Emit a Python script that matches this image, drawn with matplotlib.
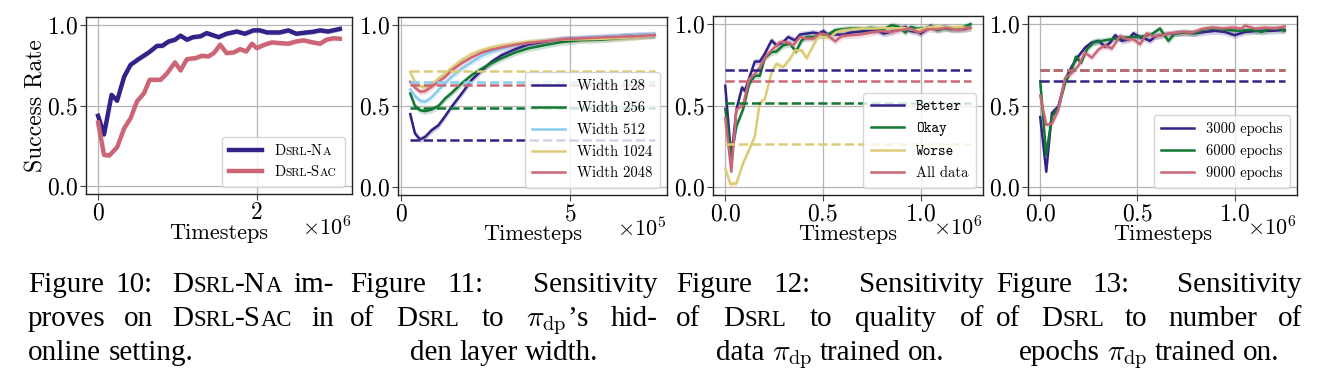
import matplotlib

matplotlib.use("Agg")
import matplotlib.pyplot as plt
import numpy as np

plt.rcParams.update({
    "font.family": "cmr10",
    "mathtext.fontset": "cm",
    "axes.formatter.use_mathtext": True,
    "axes.unicode_minus": False,
})

NAVY = "#332288"
GREEN = "#117733"
CYAN = "#88CCEE"
SAND = "#DDCC77"
ROSE = "#CC6677"

W, H = 1318, 382

# ---- Figure 10: online, DSRL-NA vs DSRL-SAC (timesteps in 1e6)
f10_na_t = [0, 0.075, 0.17, 0.24, 0.33, 0.41, 0.51, 0.64, 0.745, 0.81, 0.89, 0.97, 1.04, 1.12,
            1.2, 1.29, 1.37, 1.52, 1.62, 1.75, 1.85, 1.96, 2.04, 2.13, 2.29, 2.4, 2.5, 2.63,
            2.71, 2.8, 2.9, 3.05]
f10_na = [0.436, 0.32, 0.566, 0.53, 0.68, 0.753, 0.788, 0.83, 0.871, 0.871, 0.898, 0.909,
          0.934, 0.909, 0.925, 0.93, 0.95, 0.925, 0.946, 0.96, 0.946, 0.967, 0.967, 0.954,
          0.954, 0.967, 0.946, 0.954, 0.958, 0.967, 0.96, 0.976]
f10_sac_t = [0, 0.075, 0.14, 0.24, 0.33, 0.41, 0.49, 0.58, 0.65, 0.79, 0.87, 0.97, 1.04, 1.12,
             1.23, 1.31, 1.39, 1.46, 1.54, 1.62, 1.71, 1.79, 1.87, 1.94, 2.0, 2.1, 2.19, 2.29,
             2.4, 2.5, 2.59, 2.71, 2.8, 2.88, 2.97, 3.05]
f10_sac = [0.394, 0.193, 0.189, 0.24, 0.359, 0.421, 0.525, 0.577, 0.66, 0.66, 0.70, 0.768,
           0.718, 0.788, 0.795, 0.809, 0.805, 0.826, 0.878, 0.826, 0.83, 0.85, 0.836, 0.884,
           0.857, 0.878, 0.892, 0.888, 0.884, 0.898, 0.905, 0.892, 0.884, 0.909, 0.918, 0.915]
f10_labels = ["Dsrl-Na", "Dsrl-Sac"]  # drawn in small caps

# ---- Figure 11: hidden layer width (timesteps in 1e5)
f11_t = [0.27, 0.41, 0.56, 0.71, 0.9, 1.1, 1.3, 1.49, 1.79, 2.08, 2.38, 2.67, 2.97, 3.36,
         3.75, 4.24, 4.73, 5.32, 5.91, 6.5, 7.0, 7.49]
f11_w128 = [0.45, 0.33, 0.293, 0.309, 0.35, 0.38, 0.437, 0.495, 0.577, 0.66, 0.72, 0.773,
            0.814, 0.85, 0.88, 0.897, 0.913, 0.918, 0.924, 0.932, 0.938, 0.938]
f11_w256 = [0.577, 0.5, 0.474, 0.468, 0.478, 0.499, 0.546, 0.58, 0.64, 0.69, 0.73, 0.765,
            0.795, 0.83, 0.856, 0.876, 0.895, 0.907, 0.91, 0.92, 0.93, 0.938]
f11_w512 = [0.602, 0.561, 0.532, 0.526, 0.553, 0.598, 0.64, 0.68, 0.73, 0.77, 0.81, 0.835,
            0.855, 0.875, 0.89, 0.903, 0.911, 0.92, 0.928, 0.932, 0.938, 0.944]
f11_w1024 = [0.711, 0.649, 0.623, 0.614, 0.629, 0.67, 0.7, 0.735, 0.785, 0.82, 0.845, 0.862,
             0.875, 0.887, 0.897, 0.903, 0.911, 0.912, 0.915, 0.92, 0.928, 0.936]
f11_w2048 = [0.649, 0.614, 0.588, 0.592, 0.619, 0.649, 0.68, 0.72, 0.765, 0.8, 0.83, 0.848,
             0.862, 0.878, 0.89, 0.9, 0.911, 0.918, 0.924, 0.928, 0.932, 0.938]
f11_base = [0.289, 0.489, 0.649, 0.715, 0.631]
f11_labels = ["Width 128", "Width 256", "Width 512", "Width 1024", "Width 2048"]

# ---- Figure 12: data quality (timesteps in 1e6)
f12_better_t = [0, 0.031, 0.057, 0.086, 0.1, 0.122, 0.151, 0.177, 0.202, 0.237, 0.262, 0.297,
                0.322, 0.357, 0.382, 0.417, 0.451, 0.477, 0.503, 0.528, 0.563, 0.605, 0.64,
                0.674, 0.708, 0.743, 0.777, 0.811, 0.846, 0.88, 0.923, 0.949, 0.983, 1.0,
                1.026, 1.051, 1.086, 1.12, 1.154, 1.189, 1.223, 1.257]
f12_better = [0.621, 0.176, 0.476, 0.611, 0.59, 0.667, 0.77, 0.77, 0.818, 0.9, 0.87, 0.89,
              0.921, 0.9, 0.936, 0.942, 0.948, 0.942, 0.957, 0.932, 0.936, 0.936, 0.948,
              0.952, 0.957, 0.963, 0.963, 0.942, 0.952, 0.969, 0.983, 0.957, 0.952, 0.942,
              0.963, 0.99, 0.969, 0.983, 0.969, 0.973, 0.969, 0.977]
f12_okay_t = [0, 0.031, 0.057, 0.091, 0.122, 0.151, 0.177, 0.202, 0.237, 0.262, 0.297, 0.331,
              0.362, 0.391, 0.417, 0.451, 0.485, 0.52, 0.563, 0.605, 0.64, 0.674, 0.708,
              0.743, 0.777, 0.811, 0.854, 0.889, 0.923, 0.949, 0.983, 1.017, 1.051, 1.086,
              1.12, 1.154, 1.189, 1.223, 1.257]
f12_okay = [0.48, 0.186, 0.373, 0.476, 0.631, 0.683, 0.683, 0.791, 0.828, 0.832, 0.87, 0.88,
            0.832, 0.9, 0.921, 0.921, 0.932, 0.932, 0.963, 0.969, 0.973, 0.973, 0.969,
            0.977, 0.973, 0.969, 0.994, 0.983, 0.948, 0.983, 0.973, 0.973, 0.983, 0.963,
            0.973, 0.973, 0.969, 0.983, 1.0]
f12_worse_t = [0, 0.026, 0.057, 0.091, 0.122, 0.151, 0.177, 0.202, 0.237, 0.262, 0.297,
               0.331, 0.357, 0.391, 0.417, 0.451, 0.477, 0.503, 0.537, 0.571, 0.605, 0.657,
               0.708, 0.76, 0.811, 0.863, 0.914, 0.966, 1.0, 1.051, 1.103, 1.154, 1.206,
               1.257]
f12_worse = [0.114, 0.017, 0.021, 0.145, 0.228, 0.31, 0.518, 0.538, 0.704, 0.756, 0.735,
             0.787, 0.839, 0.839, 0.791, 0.87, 0.928, 0.921, 0.921, 0.952, 0.963, 0.969,
             0.973, 0.973, 0.977, 0.973, 0.977, 0.963, 0.969, 0.983, 0.983, 0.977, 0.983,
             0.973]
f12_all_t = [0, 0.031, 0.057, 0.091, 0.122, 0.151, 0.177, 0.211, 0.245, 0.28, 0.314, 0.348,
             0.382, 0.417, 0.451, 0.485, 0.52, 0.563, 0.597, 0.64, 0.691, 0.743, 0.794,
             0.846, 0.897, 0.949, 0.991, 1.034, 1.086, 1.137, 1.189, 1.223, 1.257]
f12_all = [0.424, 0.093, 0.476, 0.501, 0.663, 0.694, 0.735, 0.807, 0.849, 0.89, 0.89, 0.87,
           0.921, 0.911, 0.911, 0.942, 0.936, 0.894, 0.928, 0.932, 0.936, 0.948, 0.957,
           0.952, 0.963, 0.973, 0.948, 0.969, 0.969, 0.977, 0.963, 0.973, 0.977]
f12_base = [0.72, 0.518, 0.265, 0.652]
f12_labels = ["Better", "Okay", "Worse", "All data"]

# ---- Figure 13: number of epochs (timesteps in 1e6)
f13_e3000_t = [0, 0.031, 0.06, 0.094, 0.128, 0.163, 0.197, 0.231, 0.265, 0.3, 0.334, 0.36,
               0.385, 0.42, 0.454, 0.479, 0.514, 0.539, 0.565, 0.591, 0.642, 0.693, 0.745,
               0.796, 0.848, 0.899, 0.95, 1.0, 1.053, 1.122, 1.19, 1.258]
f13_e3000 = [0.429, 0.093, 0.454, 0.495, 0.66, 0.742, 0.804, 0.856, 0.887, 0.897, 0.862,
             0.887, 0.932, 0.897, 0.907, 0.944, 0.918, 0.911, 0.897, 0.924, 0.938, 0.944,
             0.948, 0.944, 0.952, 0.959, 0.952, 0.932, 0.952, 0.959, 0.959, 0.965]
f13_e6000_t = [0, 0.031, 0.06, 0.094, 0.128, 0.163, 0.183, 0.211, 0.24, 0.274, 0.317, 0.368,
               0.42, 0.471, 0.522, 0.574, 0.616, 0.659, 0.693, 0.745, 0.796, 0.848, 0.899,
               0.95, 1.019, 1.087, 1.139, 1.19, 1.224, 1.258]
f13_e6000 = [0.649, 0.196, 0.433, 0.485, 0.639, 0.722, 0.8, 0.763, 0.845, 0.887, 0.897,
             0.907, 0.918, 0.918, 0.924, 0.938, 0.973, 0.897, 0.944, 0.948, 0.944, 0.969,
             0.973, 0.965, 0.959, 0.965, 0.952, 0.973, 0.973, 0.959]
f13_e9000_t = [0, 0.031, 0.06, 0.094, 0.128, 0.163, 0.197, 0.231, 0.265, 0.3, 0.334, 0.368,
               0.411, 0.445, 0.479, 0.514, 0.548, 0.582, 0.625, 0.676, 0.728, 0.779, 0.83,
               0.882, 0.933, 0.985, 1.036, 1.053, 1.104, 1.156, 1.207, 1.258]
f13_e9000 = [0.561, 0.381, 0.388, 0.474, 0.67, 0.701, 0.746, 0.825, 0.794, 0.845, 0.87,
             0.85, 0.928, 0.907, 0.907, 0.876, 0.944, 0.924, 0.932, 0.944, 0.952, 0.948,
             0.969, 0.979, 0.973, 0.979, 0.973, 0.99, 0.973, 0.979, 0.973, 0.986]
f13_base = [0.649, 0.717, 0.717]
f13_labels = ["3000 epochs", "6000 epochs", "9000 epochs"]

# ---- captions
cap_columns = [(28, 334), (350, 658), (676, 984), (996, 1302)]
cap_lines = [
    ["Figure 10: Dsrl-Na im-", "proves on Dsrl-Sac in", "online setting."],
    ["Figure 11: Sensitivity", r"of Dsrl to $\pi_\mathrm{dp}$’s hid-", "den layer width."],
    ["Figure 12: Sensitivity", "of Dsrl to quality of", r"data $\pi_\mathrm{dp}$ trained on."],
    ["Figure 13: Sensitivity", "of Dsrl to number of", r"epochs $\pi_\mathrm{dp}$ trained on."],
]
cap_last_align = ["left", "center", "center", "center"]
SMALL_CAPS = {"Dsrl-Na", "Dsrl-Sac", "Dsrl"}

CAP_FONT = "Liberation Serif"
CAP_SIZE = 21
SC_SCALE = 0.78
BASELINES = [292, 326, 360]
LEG_SIZE = 10.5

fig = plt.figure(figsize=(W / 100, H / 100), dpi=100)
renderer = fig.canvas.get_renderer()


def text_width(s, size, family):
    t = fig.text(0, 0, s, fontsize=size, family=family)
    w = t.get_window_extent(renderer).width
    t.remove()
    return w


def small_caps_runs(word, size):
    runs = []
    for ch in word:
        sz = size * SC_SCALE if ch.islower() else size
        if runs and runs[-1][1] == sz:
            runs[-1][0] += ch.upper()
        else:
            runs.append([ch.upper(), sz])
    return runs


def word_runs(word, size):
    if word in SMALL_CAPS:
        return small_caps_runs(word, size)
    return [[word, size]]


def runs_width(runs, family):
    return sum(text_width(s, sz, family) for s, sz in runs)


def draw_runs(runs, x, y, family):
    for s, sz in runs:
        fig.text(x / W, 1 - y / H, s, fontsize=sz, family=family, va="baseline", ha="left")
        x += text_width(s, sz, family)
    return x


def px_axes(left, top, right, bottom):
    return fig.add_axes([left / W, 1 - bottom / H, (right - left) / W, (bottom - top) / H])


def style_axes(ax, xticks):
    ax.set_ylim(-0.05, 1.05)
    ax.set_yticks([0, 0.5, 1.0])
    ax.set_xticks(xticks)
    ax.ticklabel_format(axis="x", style="sci", scilimits=(0, 0))
    ax.grid(True, color="#b5b5b5", lw=0.9)
    ax.set_axisbelow(True)
    for s in ax.spines.values():
        s.set_color("#222222")
        s.set_linewidth(1.0)
    ax.tick_params(labelsize=17, length=4, width=0.8, color="#444444", pad=2)
    ax.xaxis.get_offset_text().set_visible(False)
    ax.set_xlabel("Timesteps", fontsize=16, labelpad=-1)


def curve(ax, t, y, color, label, lw=1.8, spread=0.02, scale=1e6):
    t = np.asarray(t) * scale
    y = np.asarray(y)
    ax.fill_between(t, y - spread, y + spread, color=color, alpha=0.22, lw=0)
    ax.plot(t, y, color=color, lw=lw, label=label)


def leg(ax):
    return ax.legend(loc="lower right", fontsize=LEG_SIZE, framealpha=0.8, edgecolor="#cccccc",
                     fancybox=True, handlelength=2.3, borderpad=0.5, labelspacing=0.55)


# Figure 10
ax1 = px_axes(86, 17, 352, 194)
space_leg = text_width("a a", LEG_SIZE, "cmr10") - text_width("aa", LEG_SIZE, "cmr10")
f10_placeholders = []
for lab in f10_labels:
    n = int(round(runs_width(small_caps_runs(lab, LEG_SIZE), "cmr10") / space_leg))
    f10_placeholders.append(" " * n)
curve(ax1, f10_na_t, f10_na, NAVY, f10_placeholders[0], lw=3.2, spread=0.015)
curve(ax1, f10_sac_t, f10_sac, ROSE, f10_placeholders[1], lw=3.2, spread=0.015)
style_axes(ax1, [0, 2e6])
ax1.set_ylabel("Success Rate", fontsize=17, labelpad=-1)
leg1 = leg(ax1)

# Figure 11
ax2 = px_axes(398, 17, 667, 195)
f11_series = [f11_w128, f11_w256, f11_w512, f11_w1024, f11_w2048]
f11_colors = [NAVY, GREEN, CYAN, SAND, ROSE]
for y, c, lab in zip(f11_series, f11_colors, f11_labels):
    curve(ax2, f11_t, y, c, lab, lw=1.8, spread=0.02, scale=1e5)
for b, c in zip(f11_base, f11_colors):
    ax2.hlines(b, f11_t[0] * 1e5, f11_t[-1] * 1e5, colors=c, linestyles="--", lw=1.8)
style_axes(ax2, [0, 5e5])
leg(ax2)

# Figure 12
ax3 = px_axes(713, 16, 983, 195)
f12_series = [(f12_better_t, f12_better), (f12_okay_t, f12_okay),
              (f12_worse_t, f12_worse), (f12_all_t, f12_all)]
f12_colors = [NAVY, GREEN, SAND, ROSE]
for (t, y), c, lab in zip(f12_series, f12_colors, f12_labels):
    curve(ax3, t, y, c, lab, lw=1.8, spread=0.02)
for b, c in zip(f12_base, f12_colors):
    ax3.hlines(b, 0, f12_all_t[-1] * 1e6, colors=c, linestyles="--", lw=1.8)
style_axes(ax3, [0, 0.5e6, 1e6])
leg3 = leg(ax3)
for txt in leg3.get_texts()[:3]:
    txt.set_fontfamily("cmtt10")

# Figure 13
ax4 = px_axes(1028, 16, 1297, 195)
f13_series = [(f13_e3000_t, f13_e3000), (f13_e6000_t, f13_e6000), (f13_e9000_t, f13_e9000)]
f13_colors = [NAVY, GREEN, ROSE]
for (t, y), c, lab in zip(f13_series, f13_colors, f13_labels):
    curve(ax4, t, y, c, lab, lw=1.8, spread=0.02)
for b, c in zip(f13_base, f13_colors):
    ax4.hlines(b, 0, f13_e9000_t[-1] * 1e6, colors=c, linestyles="--", lw=1.8)
style_axes(ax4, [0, 0.5e6, 1e6])
leg(ax4)

fig.canvas.draw()

# x-axis multiplier, on the line of the axis label
for ax in (ax1, ax2, ax3, ax4):
    off = ax.xaxis.get_major_formatter().get_offset()
    ax.annotate(off, xy=(1, 0), xycoords="axes fraction", xytext=(0, -41),
                textcoords="offset pixels", ha="right", va="baseline", fontsize=16)

# legend of figure 10 in small caps
lp_desc = renderer.get_text_width_height_descent(
    "lp", leg1.get_texts()[0].get_fontproperties(), ismath=False)[2]
for txt, lab in zip(leg1.get_texts(), f10_labels):
    bb = txt.get_window_extent(renderer)
    draw_runs(small_caps_runs(lab, LEG_SIZE), bb.x0, H - (bb.y0 + lp_desc), "cmr10")

# captions, justified
space_w = text_width("a a", CAP_SIZE, CAP_FONT) - text_width("aa", CAP_SIZE, CAP_FONT)
for (x0, x1), lines, last in zip(cap_columns, cap_lines, cap_last_align):
    for i, line in enumerate(lines):
        words = line.split(" ")
        runs = [word_runs(w, CAP_SIZE) for w in words]
        widths = [runs_width(r, CAP_FONT) for r in runs]
        weights = [3.0 if w.endswith(":") else 1.0 for w in words[:-1]]
        natural = sum(widths) + space_w * (len(words) - 1)
        if i < len(lines) - 1:
            extra = max(x1 - x0 - natural, 0)
            gaps = [space_w + extra * wt / sum(weights) for wt in weights]
            x = x0
        else:
            gaps = [space_w] * (len(words) - 1)
            x = x0 if last == "left" else x0 + (x1 - x0 - natural) / 2
        for j, r in enumerate(runs):
            draw_runs(r, x, BASELINES[i], CAP_FONT)
            x += widths[j] + (gaps[j] if j < len(gaps) else 0)

fig.savefig("out.png", dpi=100)
